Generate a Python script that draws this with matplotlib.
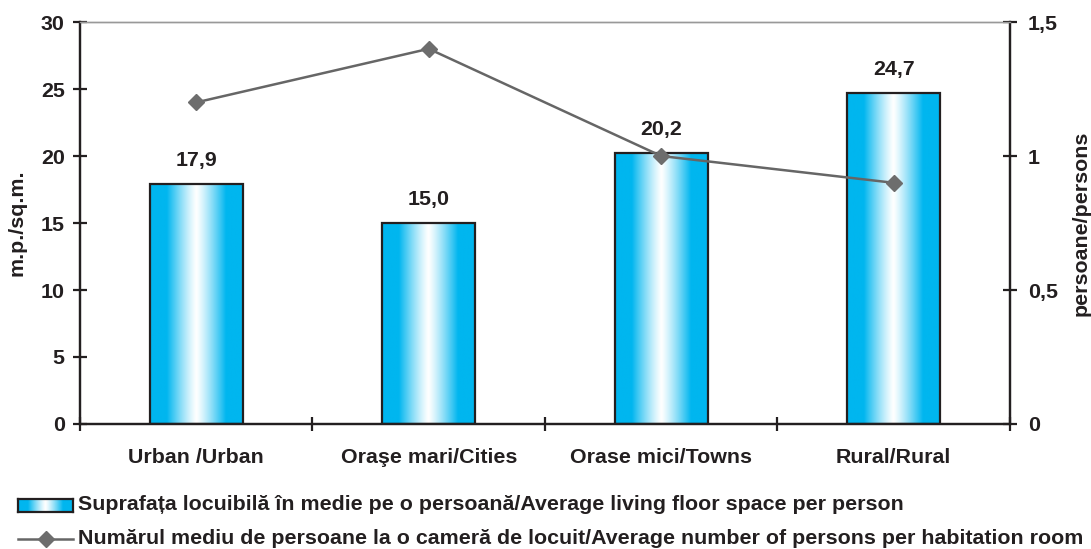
import numpy as np
from matplotlib import pyplot as plt
from matplotlib.lines import Line2D
from matplotlib.patches import Rectangle
from matplotlib.ticker import FuncFormatter

# ----------------- data -----------------
categories = ["Urban /Urban", "Oraşe mari/Cities", "Orase mici/Towns", "Rural/Rural"]
floor_space = [17.9, 15.0, 20.2, 24.7]          # m.p./sq.m.
persons_per_room = [1.2, 1.4, 1.0, 0.9]         # persoane/persons
bar_label = "Suprafața locuibilă în medie pe o persoană/Average living floor space per person"
line_label = "Numărul mediu de persoane la o cameră de locuit/Average number of persons per habitation room"

plt.rcParams['font.family'] = ['Liberation Sans', 'DejaVu Sans']
plt.rcParams['font.weight'] = 'bold'
TXT = '#231f20'
CYAN = np.array([0, 182, 239]) / 255.0
FS = 15.4


def gradient_img():
    t = np.abs(np.linspace(-1, 1, 256))
    f = np.clip(t / 0.64, 0, 1) ** 1.2
    row = (1 - f)[:, None] * np.ones(3) + f[:, None] * CYAN
    return row[None, :, :]


def comma(v, _):
    return f"{v:g}".replace('.', ',')


fig = plt.figure(figsize=(10.91, 5.49), dpi=100)
ax = fig.add_axes([0.0733, 0.2277, 0.8524, 0.7322])
ax2 = ax.twinx()

x = np.arange(len(categories))
width = 0.4
grad = gradient_img()
bars = ax.bar(x, floor_space, width, facecolor='none', edgecolor=TXT, linewidth=1.6, zorder=3)
for b in bars:
    x0, y0, w, h = b.get_x(), b.get_y(), b.get_width(), b.get_height()
    im = ax.imshow(grad, extent=[x0, x0 + w, y0, y0 + h], aspect='auto', zorder=2)
    im.set_clip_path(Rectangle((x0, y0), w, h, transform=ax.transData))
for xi, v in zip(x, floor_space):
    ax.annotate(f"{v:.1f}".replace('.', ','), (xi, v),
                xytext=(0, 10), textcoords='offset points', ha='center', va='bottom',
                fontsize=FS, fontweight='bold', color=TXT)

ax.set_xlim(-0.5, len(categories) - 0.5)
ax.set_ylim(0, 30)
ax.set_yticks(range(0, 31, 5))
ax.set_xticks(np.arange(-0.5, len(categories), 1.0))
ax.set_xticklabels([])
ax.set_xticks(x, minor=True)
ax.set_xticklabels(categories, minor=True)
ax.tick_params(axis='x', which='minor', length=0, pad=17, labelsize=FS, labelcolor=TXT)
ax.tick_params(axis='x', which='major', direction='inout', length=10, width=1.6, color=TXT)
ax.tick_params(axis='y', direction='inout', length=10, width=1.6, color=TXT, labelsize=FS,
               labelcolor=TXT, pad=6)
ax.set_ylabel("m.p./sq.m.", fontsize=FS, fontweight='bold', color=TXT)
ax.yaxis.set_label_coords(-0.058, 0.5)

ax2.plot(x, persons_per_room, color='#666666', linewidth=1.8, marker='D', markersize=8,
         markerfacecolor='#6d6d6d', markeredgecolor='#6d6d6d', zorder=4)
ax2.set_ylim(0, 1.5)
ax2.set_yticks([0, 0.5, 1, 1.5])
ax2.yaxis.set_major_formatter(FuncFormatter(comma))
ax2.tick_params(axis='y', direction='inout', length=10, width=1.6, color=TXT, labelsize=FS,
                labelcolor=TXT, pad=8)
ax2.set_ylabel("persoane/persons", fontsize=FS, fontweight='bold', color=TXT)
ax2.yaxis.set_label_coords(1.0667, 0.5)

for a in (ax, ax2):
    for side in ('left', 'right', 'bottom'):
        a.spines[side].set_color(TXT)
        a.spines[side].set_linewidth(1.6)
    a.spines['top'].set_color('#999999')
    a.spines['top'].set_linewidth(1.0)
ax2.set_zorder(ax.get_zorder() + 1)
ax2.patch.set_visible(False)

# ----------------- legend (drawn by hand) -----------------
lax = fig.add_axes([18 / 1091, 1 - 512 / 549, 55 / 1091, 13 / 549])
lax.imshow(grad, extent=[0, 1, 0, 1], aspect='auto')
lax.set_xticks([])
lax.set_yticks([])
for s in lax.spines.values():
    s.set_color(TXT)
    s.set_linewidth(1.6)
fig.text(78 / 1091, 1 - 505 / 549, bar_label, fontsize=FS, fontweight='bold', color=TXT, va='center')
fig.add_artist(Line2D([18 / 1091, 73 / 1091], [1 - 539 / 549] * 2, transform=fig.transFigure,
                      color='#666666', linewidth=1.8))
fig.add_artist(Line2D([45.5 / 1091], [1 - 539 / 549], transform=fig.transFigure, marker='D',
                      markersize=8, color='#6d6d6d'))
fig.text(78 / 1091, 1 - 539 / 549, line_label, fontsize=FS, fontweight='bold', color=TXT, va='center')

fig.savefig('out.png', dpi=100)
